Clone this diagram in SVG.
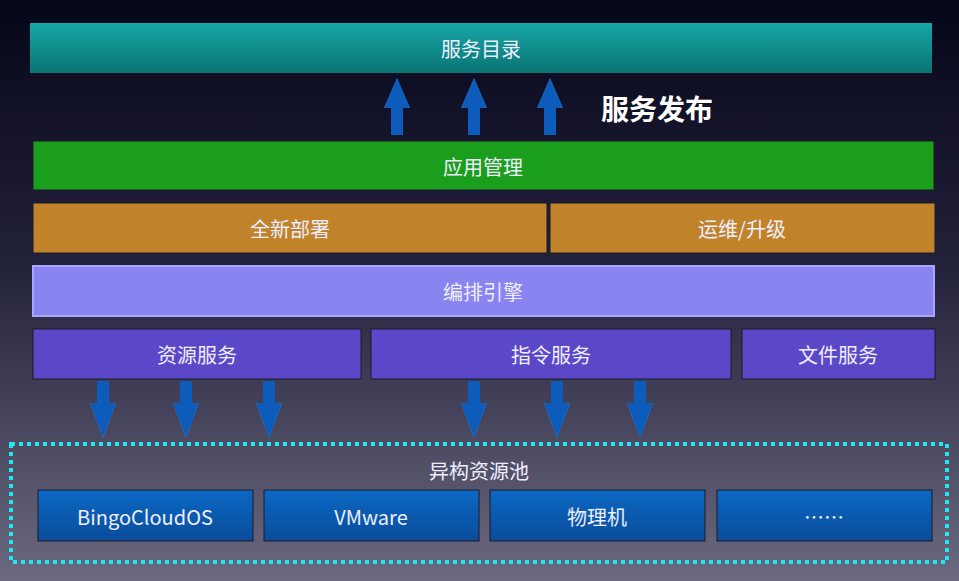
<svg xmlns="http://www.w3.org/2000/svg" width="959" height="581" viewBox="0 0 959 581">
<defs>
<linearGradient id="bg" x1="0" y1="0" x2="0" y2="1"><stop offset="0" stop-color="#06061a"/><stop offset="0.45" stop-color="#22213a"/><stop offset="1" stop-color="#6c6a80"/></linearGradient>
<linearGradient id="teal" x1="0" y1="0" x2="0" y2="1"><stop offset="0" stop-color="#17a6a6"/><stop offset="1" stop-color="#0b7474"/></linearGradient>
<linearGradient id="blue" x1="0" y1="0" x2="0" y2="1"><stop offset="0" stop-color="#0b68c4"/><stop offset="1" stop-color="#0a4c9a"/></linearGradient>
<filter id="glow" x="-50%" y="-50%" width="200%" height="200%"><feGaussianBlur in="SourceAlpha" stdDeviation="2"/><feFlood flood-color="#3cc8ff" flood-opacity="0.5"/><feComposite operator="in" in2="SourceGraphic"/><feMerge><feMergeNode/><feMergeNode in="SourceGraphic"/></feMerge></filter>
<path id="up" d="M0,0 L13,30 L6,30 L6,57 L-6,57 L-6,30 L-13,30 Z" fill="#0a5cbc"/>
<path id="down" d="M-6,0 L6,0 L6,22 L13,22 L0,57 L-13,22 L-6,22 Z" fill="#0a5cbc"/>
</defs>
<style>
text{font-family:"Noto Sans CJK SC","Liberation Sans",sans-serif;fill:#eef;font-size:20px;text-anchor:middle;dominant-baseline:central}
.b{stroke:#1a1a2a;stroke-width:1}
</style>
<rect width="959" height="581" fill="url(#bg)"/>
<g id="catalog"><rect x="30" y="23" width="902" height="50" fill="url(#teal)"/><text x="481" y="48">服务目录</text></g>
<text x="657" y="108" style="font-size:28px;font-weight:bold;fill:#fff">服务发布</text>
<g id="appmgmt"><rect class="b" x="33" y="141" width="901" height="49" fill="#1b9e1b"/><text x="483" y="166">应用管理</text></g>
<g id="deploy"><rect class="b" x="33" y="203" width="514" height="50" fill="#c0832a"/><text x="290" y="228">全新部署</text></g>
<g id="ops"><rect class="b" x="550" y="203" width="385" height="50" fill="#c0832a"/><text x="742" y="228">运维/升级</text></g>
<g id="engine"><rect x="33" y="266" width="901" height="50" fill="#8984f0" stroke="#a8a4ff" stroke-width="2"/><text x="483" y="291">编排引擎</text></g>
<g id="res"><rect class="b" x="33" y="329" width="328" height="50" fill="#5b48c8"/><text x="197" y="354">资源服务</text></g>
<g id="cmd"><rect class="b" x="371" y="329" width="360" height="50" fill="#5b48c8"/><text x="551" y="354">指令服务</text></g>
<g id="file"><rect class="b" x="742" y="329" width="193" height="50" fill="#5b48c8"/><text x="838" y="354">文件服务</text></g>
<g id="pool"><rect x="11" y="444" width="936" height="118" fill="none" stroke="#22e6f0" stroke-width="4" stroke-dasharray="4,4"/><text x="479" y="470">异构资源池</text>
<rect class="b" x="38" y="490" width="215" height="51" fill="url(#blue)"/><text x="145" y="516">BingoCloudOS</text>
<rect class="b" x="264" y="490" width="215" height="51" fill="url(#blue)"/><text x="371" y="516">VMware</text>
<rect class="b" x="490" y="490" width="215" height="51" fill="url(#blue)"/><text x="597" y="516">物理机</text>
<rect class="b" x="717" y="490" width="215" height="51" fill="url(#blue)"/><text x="824" y="516">……</text></g>
<g id="connectors" filter="url(#glow)">
<use href="#up" x="397" y="78"/><use href="#up" x="474" y="78"/><use href="#up" x="550" y="78"/>
<use href="#down" x="103" y="381"/><use href="#down" x="186" y="381"/><use href="#down" x="269" y="381"/>
<use href="#down" x="474" y="381"/><use href="#down" x="557" y="381"/><use href="#down" x="640" y="381"/>
</g>
</svg>
